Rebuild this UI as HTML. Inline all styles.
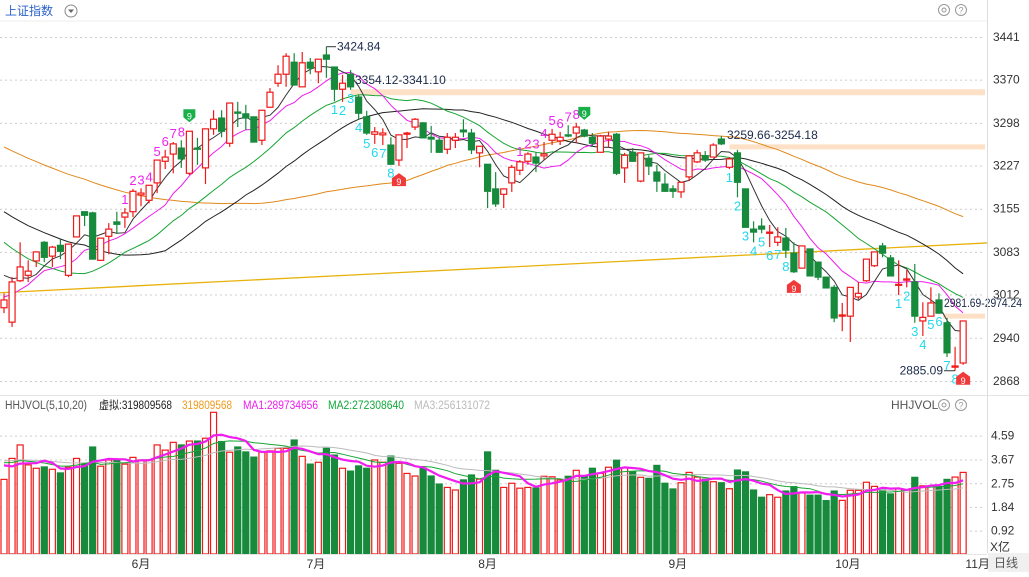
<!DOCTYPE html>
<html><head><meta charset="utf-8">
<style>
html,body{margin:0;padding:0;background:#fff;}
body{width:1029px;height:572px;overflow:hidden;font-family:"Liberation Sans","Noto Sans CJK SC",sans-serif;}
svg text{font-family:"Liberation Sans","Noto Sans CJK SC",sans-serif;}
</style></head>
<body>
<svg id="chart" width="1029" height="572" viewBox="0 0 1029 572" xmlns="http://www.w3.org/2000/svg">
  <rect x="0" y="0" width="1029" height="572" fill="#fff"/>
  <g id="grid"></g>
  <g id="bands"></g>
  <g id="mas"></g>
  <g id="candles"></g>
  <g id="vol"></g>
  <g id="labels"></g>
  <!-- header -->
  <text x="5" y="15" font-size="12" fill="#2a62c9">上证指数</text>
  <g>
    <circle cx="71" cy="11" r="6" fill="none" stroke="#888" stroke-width="1"/>
    <path d="M68 9.5 L74 9.5 L71 13 Z" fill="#666"/>
  </g>
  <g><circle cx="944" cy="10" r="5.5" fill="none" stroke="#999"/><circle cx="944" cy="10" r="2" fill="none" stroke="#999"/></g>
  <g><circle cx="961" cy="10" r="5.5" fill="none" stroke="#999"/><text x="961" y="13.5" font-size="9" text-anchor="middle" fill="#999">?</text></g>
  <line x1="0" y1="21" x2="987" y2="21" stroke="#ececec"/>
  <line x1="987.5" y1="0" x2="987.5" y2="553" stroke="#ddd"/>
  <line x1="0" y1="395.5" x2="1029" y2="395.5" stroke="#e4e4e4"/>
  <!-- volume header -->
  <g font-size="11.5">
    <text x="5" y="409" fill="#555" textLength="82" lengthAdjust="spacingAndGlyphs">HHJVOL(5,10,20)</text>
    <text x="99" y="409" fill="#222" textLength="73" lengthAdjust="spacingAndGlyphs">虚拟:319809568</text>
    <text x="182" y="409" fill="#f09a1a" textLength="50" lengthAdjust="spacingAndGlyphs">319809568</text>
    <text x="243" y="409" fill="#ee1cee" textLength="75" lengthAdjust="spacingAndGlyphs">MA1:289734656</text>
    <text x="328" y="409" fill="#11a83a" textLength="76" lengthAdjust="spacingAndGlyphs">MA2:272308640</text>
    <text x="414" y="409" fill="#bbb" textLength="76" lengthAdjust="spacingAndGlyphs">MA3:256131072</text>
  </g>
  <text x="891" y="409" font-size="12" fill="#555">HHJVOL</text>
  <g><circle cx="944" cy="405" r="5.5" fill="none" stroke="#999"/><circle cx="944" cy="405" r="2" fill="none" stroke="#999"/></g>
  <g><circle cx="961" cy="405" r="5.5" fill="none" stroke="#999"/><text x="961" y="408.5" font-size="9" text-anchor="middle" fill="#999">?</text></g>
  <!-- bottom -->
  <line x1="0" y1="554.5" x2="987" y2="554.5" stroke="#e4e4e4"/>
  <rect x="988" y="553" width="41" height="19" fill="#f0f0f0"/>
  <text x="1006" y="567" font-size="12" text-anchor="middle" fill="#555">日线</text>
  <text x="990" y="551" font-size="12" fill="#333">X亿</text>
</svg>
<script>
// ---- data ----
const openP = [2990,2966,3035,3044,3068,3099,3076,3094,3044,3108,3150,3148,3069,3109,3133,3141,3150,3178,3169,3198,3234,3246,3256,3214,3256,3223,3288,3306,3264,3316,3313,3308,3269,3324,3364,3379,3399,3358,3399,3383,3411,3391,3354,3379,3341,3308,3279,3278,3261,3236,3279,3291,3298,3274,3269,3254,3269,3286,3281,3248,3229,3188,3179,3198,3219,3234,3241,3243,3269,3268,3278,3281,3286,3274,3249,3271,3279,3223,3249,3201,3239,3216,3196,3188,3183,3208,3233,3243,3241,3271,3224,3248,3188,3121,3126,3114,3099,3106,3081,3056,3088,3066,3041,3024,2976,2976,3008,3035,3060,3093,3073,3028,3036,3033,2968,2976,3003,2965,2891,2898];
const closeP = [3003,3033,3058,3051,3083,3074,3091,3084,3096,3143,3144,3071,3106,3121,3129,3148,3184,3181,3194,3236,3241,3263,3238,3284,3254,3288,3304,3284,3331,3314,3306,3266,3319,3349,3379,3409,3361,3398,3389,3404,3404,3354,3364,3358,3314,3281,3283,3281,3229,3278,3281,3304,3273,3271,3249,3274,3274,3283,3253,3259,3184,3163,3188,3224,3233,3246,3231,3246,3279,3274,3276,3291,3276,3264,3276,3276,3214,3244,3234,3248,3226,3201,3184,3184,3199,3243,3248,3236,3261,3263,3238,3199,3124,3116,3121,3116,3108,3086,3050,3093,3043,3041,3023,2973,2978,3024,3014,3071,3083,3081,3043,3029,3038,2976,2974,2998,2981,2915,2893,2968];
const highP = [3014,3041,3099,3069,3084,3101,3093,3104,3096,3143,3150,3150,3106,3131,3150,3156,3188,3189,3194,3236,3253,3266,3269,3284,3273,3288,3319,3319,3331,3333,3328,3308,3319,3356,3394,3414,3414,3416,3406,3404,3424.84,3391,3378,3386,3344,3318,3291,3289,3274,3278,3283,3306,3299,3293,3274,3281,3281,3304,3288,3259,3229,3216,3189,3228,3236,3249,3249,3266,3288,3283,3294,3298,3288,3281,3278,3283,3281,3248,3256,3248,3244,3228,3214,3194,3199,3244,3253,3251,3264,3276,3241,3253,3188,3134,3139,3128,3124,3123,3099,3093,3088,3066,3041,3028,2998,3024,3033,3071,3083,3098,3078,3069,3053,3063,2999,3024,3014,2973,2925,2968];
const lowP = [2981,2958,3033,3033,3058,3066,3058,3071,3041,3108,3126,3071,3068,3079,3113,3123,3141,3159,3164,3181,3221,3214,3223,3211,3228,3196,3278,3274,3258,3291,3286,3266,3261,3323,3358,3358,3361,3358,3379,3364,3373,3334,3333,3353,3304,3278,3263,3261,3229,3226,3256,3286,3273,3248,3248,3246,3256,3274,3246,3224,3156,3158,3156,3183,3211,3228,3216,3236,3261,3261,3274,3264,3274,3258,3248,3258,3211,3198,3233,3199,3211,3183,3183,3173,3173,3201,3231,3233,3241,3261,3221,3174,3124,3099,3114,3091,3093,3073,3048,3056,3043,3036,3023,2966,2951,2933,3004,3033,3058,3074,3043,3011,3024,2965,2943,2976,2981,2908,2885.09,2895];
const volume = [2.90,3.71,4.23,3.46,3.33,3.38,3.29,3.15,3.37,3.71,3.53,4.15,3.41,3.65,3.65,3.49,3.75,3.65,3.65,4.23,4.03,4.33,4.23,4.38,4.38,4.49,5.49,4.36,3.95,4.15,3.96,3.76,3.97,4.00,4.10,4.10,4.42,3.79,3.49,3.56,4.10,3.84,3.33,3.22,3.42,3.33,3.65,3.56,3.80,3.52,3.13,3.03,3.33,3.03,2.72,2.59,2.49,2.88,3.07,2.91,3.96,3.25,2.59,2.75,2.56,2.59,2.57,3.02,3.00,2.88,3.02,3.25,3.03,3.33,3.13,3.37,3.64,3.35,3.20,2.98,2.94,3.44,2.75,2.53,2.77,3.17,2.99,2.91,2.81,2.77,2.54,3.26,3.19,2.49,2.21,2.31,2.21,2.45,2.62,2.39,2.29,2.29,2.08,2.45,2.09,2.48,2.48,2.79,2.63,2.49,2.34,2.53,2.49,2.98,2.65,2.65,2.62,2.90,2.99,3.17];
const priorCloses = [3430,3425,3420,3415,3410,3405,3400,3395,3390,3385,3380,3380,3375,3370,3370,3365,3360,3355,3350,3345,3345,3340,3335,3330,3325,3320,3320,3315,3310,3305,3290,3280,3270,3260,3250,3250,3240,3240,3230,3210,3240,3230,3220,3200,3190,3180,3170,3160,3160,3150,2990,2980,2970,2960,2960,3060,3050,3057,3050];
const priorVolume = [3.5,3.6,3.7,3.6,3.8,3.7,3.6,3.9,3.8,3.7,3.6,3.5,3.7,3.6,3.8,3.9,3.7,3.4,3.3];
const priceTicks = [3441,3370,3298,3227,3155,3083,3012,2940,2868];
const volTicks = [4.59,3.67,2.75,1.84,0.92];
const monthLabels = ["6月","7月","8月","9月","10月","11月"];
const monthIndex = [17,38.7,60,83.6,104.7,120.8];
const tdUpStarts = [15,64];
const tdDownStarts = [41,90,111];
const trendLine = [[-0.5,3015],[122,3098]];
const supportBands = [[43,3349,6],[90,3258,5],[116.5,2976,5]];

// ---- axes ----
const NS = "http://www.w3.org/2000/svg";
const xI = i => 4 + i*8.06;
const yP = p => 37 + (3441-p)*344/573;
const yV = v => 554.5 - v*25.9;
const RED="#f01818", GREEN="#178a3c";
function mk(tag, attrs, parent){const e=document.createElementNS(NS,tag);for(const k in attrs)e.setAttribute(k,attrs[k]);parent.appendChild(e);return e;}
const G = id => document.getElementById(id);

// grid
priceTicks.forEach(t=>{
  const l=mk("line",{x1:0,x2:985,y1:yP(t)+0.5,y2:yP(t)+0.5,stroke:"#ccc","stroke-dasharray":"2,3"},G("grid"));
  
  
  const tx=mk("text",{x:993,y:yP(t)+4,"font-size":12,fill:"#333"},G("grid"));tx.textContent=t;
  
  
});
volTicks.forEach(t=>{
  const l=mk("line",{x1:0,x2:985,y1:yV(t)+0.5,y2:yV(t)+0.5,stroke:"#ccc","stroke-dasharray":"2,3"},G("grid"));
  
  
  const tx=mk("text",{x:991,y:yV(t)+4,"font-size":12,fill:"#333"},G("grid"));tx.textContent=t.toFixed(2);
  
  
});
monthLabels.forEach((m,k)=>{
  const tx=mk("text",{x:xI(monthIndex[k]),y:568,"font-size":12,fill:"#333","text-anchor":"middle"},G("grid"));tx.textContent=m;
  
  
});

// bands & trendline
supportBands.forEach(b=>{
  const r=mk("rect",{x:xI(b[0]),y:yP(b[1])-b[2]/2,width:985-xI(b[0]),height:b[2],fill:"#fde0c6"},G("bands"));
  
  
});
const tl=mk("line",{x1:xI(trendLine[0][0]),y1:yP(trendLine[0][1]),x2:xI(trendLine[1][0]),y2:yP(trendLine[1][1]),stroke:"#e8b20c","stroke-width":1.3},G("bands"));



// moving averages
function ma(arr, prior, n){
  const all=prior.concat(arr), off=prior.length, out=[];
  for(let i=0;i<arr.length;i++){const j=i+off;const s=Math.max(0,j-n+1);let sum=0;for(let k=s;k<=j;k++)sum+=all[k];out.push(sum/(j-s+1));}
  return out;
}
function pathOf(vals, yf){return vals.map((v,i)=>(i?"L":"M")+xI(i).toFixed(1)+" "+yf(v).toFixed(1)).join(" ");}
[[60,"#e0891c","ma60-line"],[30,"#222","ma30-line"],[20,"#17a534","ma20-line"],[10,"#ee1cee","ma10-line"],[5,"#333","ma5-line"]].forEach(d=>{
  const p=mk("path",{d:pathOf(ma(closeP,priorCloses,d[0]),yP),fill:"none",stroke:d[1],"stroke-width":1},G("mas"));
  
  
});

// candles & volume bars
closeP.forEach((c,i)=>{
  const o=openP[i], up=c>=o, col=up?RED:GREEN, x=xI(i);
  const w=mk("line",{x1:x,x2:x,y1:yP(highP[i]),y2:yP(lowP[i]),stroke:col,"stroke-width":1.2},G("candles"));
  
  
  const top=yP(Math.max(o,c)), h=Math.max(1,yP(Math.min(o,c))-top);
  const b=mk("rect",{x:x-3,y:top,width:6,height:h,fill:up?"#fff":col,stroke:col,"stroke-width":1.2},G("candles"));
  
  
  const vt=yV(volume[i]);
  const vb=mk("rect",{x:x-3,y:vt,width:6,height:554-vt,fill:up?"#fff":col,stroke:col,"stroke-width":1.2},G("vol"));
  
  
});
[[20,"#bbb",1,"volume-ma3-line"],[10,"#17a534",1,"volume-ma2-line"],[5,"#f01cf0",2.2,"volume-ma1-line"]].forEach(d=>{
  const p=mk("path",{d:pathOf(ma(volume,priorVolume,d[0]),yV),fill:"none",stroke:d[1],"stroke-width":d[2]},G("vol"));
  
  
});

// TD sequence labels
function txt(x,y,s,fill,size,anchor){const t=mk("text",{x:x,y:y,"font-size":size||12,fill:fill,"text-anchor":anchor||"middle"},G("labels"));t.textContent=s;return t;}
tdUpStarts.forEach(s=>{
  for(let k=0;k<8;k++){const i=s+k;const t=txt(xI(i),yP(highP[i])-4,String(k+1),"#ee22ee",13);
    
    }
  const i=s+8,x=xI(i),y=yP(highP[i])-22;
  const g=mk("path",{d:`M${x-6} ${y} h12 v8 l-6 5 l-6 -5 Z`,fill:"#19b04a"},G("labels"));
  
  
  txt(x,y+10,"9","#fff",9);
});
tdDownStarts.forEach(s=>{
  for(let k=0;k<8;k++){const i=s+k;const t=txt(xI(i),yP(lowP[i])+13,String(k+1),"#22d8ee",13);
    
    }
  const i=s+8,x=xI(i),y=yP(lowP[i])+7;
  const g=mk("path",{d:`M${x} ${y} l7 5 v8 h-14 v-8 Z`,fill:"#f03a3a"},G("labels"));
  
  
  txt(x,y+12,"9","#fff",9);
});

// annotations
function ann(x,y,s,name,anchor){const t=txt(x,y,s,"#1a2a4a",12,anchor||"start");
  
  return t;}
mk("line",{x1:xI(40),x2:336,y1:yP(3424.84),y2:yP(3424.84),stroke:"#333"},G("labels"));
ann(337,yP(3424.84)+4,"3424.84","high-annotation");
ann(355,84,"3354.12-3341.10","zone-annotation-1");
ann(727,139,"3259.66-3254.18","zone-annotation-2");
const a3=ann(944,307,"2981.69-2974.24","zone-annotation-3");
a3.setAttribute("textLength","78");
a3.setAttribute("lengthAdjust","spacingAndGlyphs");
mk("line",{x1:944,x2:xI(118),y1:yP(2885.09),y2:yP(2885.09),stroke:"#333"},G("labels"));
ann(943,yP(2885.09)+4,"2885.09","low-annotation","end");
</script>
</body></html>
